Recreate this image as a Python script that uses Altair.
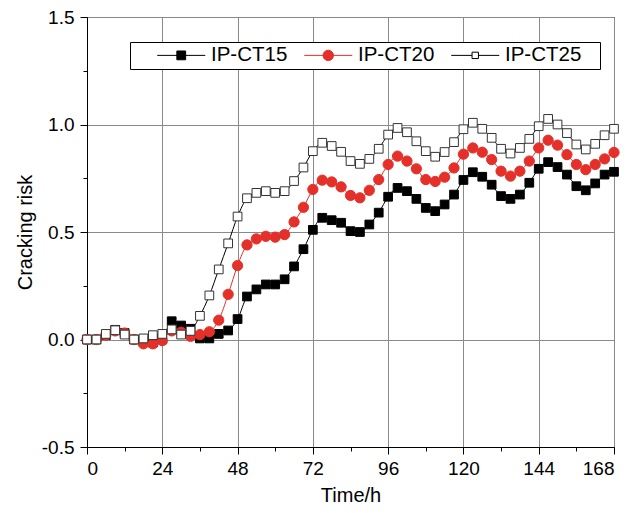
import altair as alt
import pandas as pd

# Sampling times (h)
times = list(range(0, 169, 3))

# Cracking risk of the three mixes
ct15 = [0.0, 0.0, 0.02, 0.045, 0.03, 0.0, -0.01, -0.015, 0.0,
        0.085, 0.065, 0.05, 0.005, 0.005, 0.026, 0.042, 0.095,
        0.2, 0.233, 0.256, 0.256, 0.28, 0.34, 0.42, 0.51,
        0.566, 0.555, 0.543, 0.504, 0.5, 0.535, 0.59, 0.664,
        0.705, 0.69, 0.654, 0.612, 0.597, 0.628, 0.674, 0.742,
        0.778, 0.757, 0.72, 0.667, 0.654, 0.674, 0.729, 0.794,
        0.825, 0.802, 0.767, 0.713, 0.694, 0.726, 0.767, 0.78]

ct20 = [0.0, 0.0, 0.02, 0.04, 0.03, 0.0, -0.02, -0.02, -0.005,
        0.04, 0.034, 0.015, 0.023, 0.036, 0.09, 0.21, 0.344,
        0.44, 0.468, 0.48, 0.476, 0.488, 0.547, 0.615, 0.698,
        0.741, 0.733, 0.71, 0.67, 0.659, 0.694, 0.744, 0.814,
        0.853, 0.83, 0.794, 0.744, 0.735, 0.755, 0.798, 0.862,
        0.891, 0.871, 0.837, 0.783, 0.76, 0.783, 0.83, 0.891,
        0.927, 0.904, 0.86, 0.814, 0.79, 0.814, 0.84, 0.87]

ct25 = [0.0, 0.0, 0.026, 0.043, 0.023, 0.0, 0.005, 0.02, 0.026,
        0.047, 0.023, 0.04, 0.11, 0.205, 0.326, 0.447, 0.572,
        0.657, 0.682, 0.69, 0.682, 0.69, 0.737, 0.8, 0.876,
        0.915, 0.9, 0.873, 0.83, 0.817, 0.84, 0.887, 0.953,
        0.984, 0.964, 0.922, 0.876, 0.85, 0.872, 0.918, 0.978,
        1.008, 0.98, 0.938, 0.887, 0.865, 0.891, 0.933, 0.992,
        1.026, 1.0, 0.96, 0.907, 0.884, 0.91, 0.95, 0.98]

series_names = ["IP-CT15", "IP-CT20", "IP-CT25"]

rows = []
for name, vals in zip(series_names, [ct15, ct20, ct25]):
    for t, v in zip(times, vals):
        rows.append({"time": t, "risk": v, "series": name})
df = pd.DataFrame(rows)

RED = "#e5302a"
FONT = "Liberation Sans"

x_ticks = list(range(0, 169, 12))
y_ticks = [-0.5 + 0.25 * i for i in range(9)]

x_enc = alt.X(
    "time:Q",
    scale=alt.Scale(domain=[0, 168], nice=False, zero=False),
    axis=alt.Axis(
        values=x_ticks,
        title="Time/h",
        labelExpr="datum.value % 24 == 0 ? datum.label : ''",
        tickSize={"condition": {"test": "datum.value % 24 != 0", "value": 4}, "value": 7},
        gridOpacity={"condition": {"test": "datum.value % 24 != 0", "value": 0}, "value": 1},
        labelPadding=5,
        titlePadding=7,
    ),
)
y_enc = alt.Y(
    "risk:Q",
    scale=alt.Scale(domain=[-0.5, 1.5], nice=False, zero=False),
    axis=alt.Axis(
        values=y_ticks,
        title="Cracking risk",
        labelExpr="round(datum.value*4) % 2 == 0 ? replace(format(datum.value, '.1f'), '\u2212', '-') : ''",
        tickSize={"condition": {"test": "round(datum.value*4) % 2 != 0", "value": 4}, "value": 7},
        gridOpacity={"condition": {"test": "round(datum.value*4) % 2 != 0", "value": 0}, "value": 1},
        labelPadding=6,
        titlePadding=6,
    ),
)

base = alt.Chart(df)

# Per-series styling: line colour, marker shape, marker fill, marker stroke, marker size
styles = {
    "IP-CT15": ("black", "square", "black", "black", 76),
    "IP-CT20": (RED, "circle", RED, RED, 105),
    "IP-CT25": ("black", "square", "white", "#333333", 76),
}

layers = []
for name in series_names:
    lc, shp, fc, sc, sz = styles[name]
    sub = base.transform_filter(alt.datum.series == name)
    layers.append(
        sub.mark_line(color=lc, strokeWidth=1, interpolate="monotone").encode(x=x_enc, y=y_enc)
    )
    layers.append(
        sub.mark_point(shape=shp, size=sz, filled=True, fill=fc, stroke=sc,
                       strokeWidth=1, opacity=1).encode(x=x_enc, y=y_enc)
    )

# Legend glyphs: a line segment with the marker in the middle (unit = 8 px)
L = 0.75
c = L + 3
sq_filled = f"M{L},0H{L+6}M{c-0.55},-0.55H{c+0.55}V0.55H{c-0.55}Z"
circ = (f"M{L},0H{L+6}M{c-0.65},0A0.65,0.65 0 1,0 {c+0.65},0"
        f"A0.65,0.65 0 1,0 {c-0.65},0Z")
sq_open = f"M{L},0H{c-0.4}M{c+0.4},0H{L+6}M{c-0.4},-0.4H{c+0.4}V0.4H{c-0.4}Z"

legend = alt.Legend(
    title="\u00a0",
    titleOrient="left",
    titleFontSize=21,
    titlePadding=8,
    orient="none",
    legendX=43,
    legendY=25,
    direction="horizontal",
    columns=3,
    labelFont=FONT,
    labelFontSize=20.5,
    labelColor="black",
    labelLimit=400,
    labelOffset=49.5,
    labelExpr="datum.label == 'IP-CT25' ? datum.label + '\u00a0\u00a0\u2009\u200b' : datum.label",
    symbolSize=256,
    symbolStrokeWidth=1,
    symbolOpacity=1,
    columnPadding=0,
    padding=3,
    strokeColor="black",
    fillColor="white",
)

legend_layer = base.mark_point(filled=True, opacity=0).encode(
    x=x_enc,
    y=y_enc,
    shape=alt.Shape("series:N", scale=alt.Scale(domain=series_names, range=[sq_filled, circ, sq_open]), legend=legend),
    fill=alt.Fill("series:N", scale=alt.Scale(domain=series_names, range=["black", RED, "white"]), legend=legend),
    stroke=alt.Stroke("series:N", scale=alt.Scale(domain=series_names, range=["black", RED, "black"]), legend=legend),
)

chart = alt.layer(*layers, legend_layer).properties(
    width=527,
    height=430,
    padding={"left": 87, "top": 17, "right": 14, "bottom": 66},
    autosize=alt.AutoSizeParams(type="none"),
    background="white",
).configure_view(
    stroke="black", strokeWidth=1
).configure_axis(
    domainColor="black",
    tickColor="black",
    labelColor="black",
    titleColor="black",
    labelFont=FONT,
    titleFont=FONT,
    labelFontSize=19,
    titleFontSize=20,
    titleFontWeight="normal",
    gridColor="#8a8a8a",
    gridWidth=1,
    domainWidth=1,
    tickWidth=1,
)

chart.save("out.html", embed_options={"renderer": "svg", "actions": False})
